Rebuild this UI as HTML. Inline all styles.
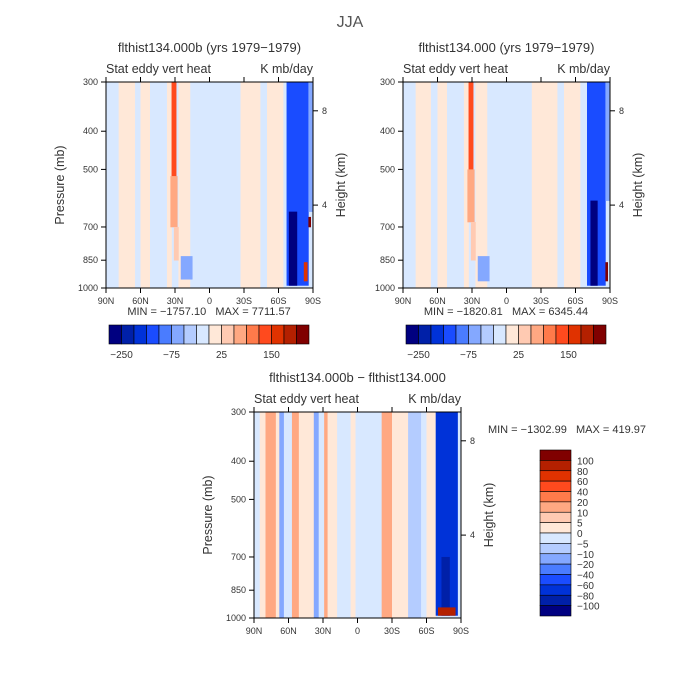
<!DOCTYPE html>
<html><head><meta charset="utf-8">
<style>
html,body{margin:0;padding:0;background:#fff;}
svg{display:block;font-family:"Liberation Sans",sans-serif;}
text{white-space:pre;}
</style></head>
<body>
<svg id="chart" width="700" height="700" viewBox="0 0 700 700">
<rect width="700" height="700" fill="#fff"/>
<text x="350" y="27" text-anchor="middle" font-size="16" fill="#555">JJA</text>
</svg>
<script>
// ---- data ----
var topLevels = [-300,-250,-200,-150,-100,-75,-50,-25,0,25,50,75,100,150,200];
var topTickLabels = ['-250','-75','25','150'];
var topTickIdx = [1,5,9,13];
var diffLevels = [-100,-80,-60,-40,-20,-10,-5,0,5,10,20,40,60,80,100];
var diffTickLabels = ['100','80','60','40','20','10','5','0','\u22125','\u221210','\u221220','\u221240','\u221260','\u221280','\u2212100'];
var palette = ['#000080','#0020a8','#0032d8','#1a4cff','#4a7cff','#84a8ff','#b4ccff','#d8e8ff','#ffe8d8','#ffcab2','#ffa882','#ff7a4a','#ff4a1e','#e03200','#b42000','#800000'];
var pressureTicks = [300,400,500,700,850,1000];
var heightTicks = [8,4];
var heightTickP = [355,616];
var latTicks = [90,60,30,0,-30,-60,-90];
var latLabels = ['90N','60N','30N','0','30S','60S','90S'];
// cells: [latNorth, latSouth, pTop, pBottom, value]
var cellsA = [
 [90,-90,300,1000,-30],[79,65,300,1000,-10],[60,52,300,1000,-10],[37,33,300,1000,-10],
 [27,17,300,1000,-10],[-27,-44,300,1000,-10],[-50,-64,300,1000,-10],
 [33,29,300,520,80],[34,28,520,700,30],[31,27,700,850,10],[25,15,830,950,-80],
 [-67,-86,300,985,-180],[-69,-76,640,985,-400],[-86,-90,300,640,-80],
 [-86,-88,660,700,300],[-82,-85,860,960,120]
];
var cellsB = [
 [90,-90,300,1000,-30],[79,66,300,1000,-10],[60,52,300,1000,-10],[37,33,300,1000,-10],
 [27,17,300,1000,-10],[-22,-44,300,1000,-10],[-50,-64,300,1000,-10],
 [33,29,300,500,80],[34,28,500,680,30],[31,27,680,850,10],[25,15,830,960,-80],
 [-70,-86,300,985,-170],[-73,-79,600,985,-400],[-86,-90,300,600,-80],
 [-86,-88,860,960,250]
];
var cellsC = [
 [90,-90,300,1000,-3],[85,80,300,1000,3],[80,71,300,1000,15],[71,68,300,1000,3],
 [68,64,300,1000,-15],[64,57,300,1000,-3],[57,51,300,1000,15],[51,38,300,1000,3],
 [38,34,300,1000,-15],[29,26,300,1000,15],[26,18,300,1000,3],[6,2,300,1000,3],
 [-21,-30,300,1000,15],[-30,-44,300,1000,3],[-44,-55,300,1000,-8],[-60,-68,300,1000,3],
 [-68,-87,300,985,-70],[-73,-80,700,985,-90],[-70,-85,940,985,80]
];
// ---- drawing ----
var svg = document.getElementById('chart');
var NS = 'http://www.w3.org/2000/svg';
function mk(tag, attrs, parent){var e=document.createElementNS(NS,tag);for(var k in attrs)e.setAttribute(k,attrs[k]);(parent||svg).appendChild(e);return e;}
function colorFor(v, levels){var i=0;while(i<levels.length && v>=levels[i])i++;return palette[i];}
function txt(x,y,s,size,anchor,parent,name){var t=mk('text',{x:x,y:y,'font-size':size,'text-anchor':anchor||'middle',fill:'#333'},parent);t.textContent=s;
 
 
 return t;}

function panel(name,x0,y0,w,h,cells,levels,title,sub,showPressTitle){
 var g=mk('g',{});
 
 
 var xs=function(lat){return x0+(90-lat)/180*w;};
 var ys=function(p){return y0+Math.log(p/300)/Math.log(1000/300)*h;};
 cells.forEach(function(c){
  var r=mk('rect',{x:xs(c[0]),y:ys(c[2]),width:xs(c[1])-xs(c[0])+0.3,height:ys(c[3])-ys(c[2])+0.3,fill:colorFor(c[4],levels)},g);
  
  
 });
 var f=mk('rect',{x:x0,y:y0,width:w,height:h,fill:'none',stroke:'#000','stroke-width':1},g);
 
 
 latTicks.forEach(function(l,i){
  var x=xs(l);
  mk('line',{x1:x,y1:y0+h,x2:x,y2:y0+h+5,stroke:'#000'},g);
  mk('line',{x1:x,y1:y0,x2:x,y2:y0-5,stroke:'#000'},g);
  txt(x,y0+h+16,latLabels[i],9,'middle',g,'lat-tick-label');
 });
 pressureTicks.forEach(function(p){
  var y=ys(p);
  mk('line',{x1:x0,y1:y,x2:x0-5,y2:y,stroke:'#000'},g);
  txt(x0-8,y+3,String(p),9,'end',g,'pressure-tick-label');
 });
 heightTicks.forEach(function(z,i){
  var y=ys(heightTickP[i]);
  mk('line',{x1:x0+w,y1:y,x2:x0+w+5,y2:y,stroke:'#000'},g);
  txt(x0+w+9,y+3,String(z),9,'start',g,'height-tick-label');
 });
 txt(x0+w/2,y0-30,title,13,'middle',g,'panel-title');
 txt(x0,y0-9,sub[0],12.5,'start',g,'variable-label');
 txt(x0+w,y0-9,sub[1],12.5,'end',g,'units-label');
 if(showPressTitle){
  var yl=txt(0,0,'Pressure (mb)',12.5,'middle',g,'y-axis-title');
  yl.setAttribute('transform','translate('+(x0-42)+','+(y0+h/2)+') rotate(-90)');
 }
 var yr=txt(0,0,'Height (km)',12.5,'middle',g,'y2-axis-title');
 yr.setAttribute('transform','translate('+(x0+w+32)+','+(y0+h/2)+') rotate(-90)');
}

function hbar(name,x0,y0,w,h,labelTxt,idx){
 var g=mk('g',{});
 
 
 var bw=w/palette.length;
 palette.forEach(function(c,i){
  var r=mk('rect',{x:x0+i*bw,y:y0,width:bw,height:h,fill:c,stroke:'#000','stroke-width':0.6},g);
  
  
 });
 labelTxt.forEach(function(s,i){txt(x0+idx[i]*bw,y0+h+14,s.replace('-','\u2212'),10,'middle',g,'colorbar-label');});
}
function vbar(name,x0,y0,w,h){
 var g=mk('g',{});
 
 
 var bh=h/palette.length;
 for(var i=0;i<palette.length;i++){
  var r=mk('rect',{x:x0,y:y0+i*bh,width:w,height:bh,fill:palette[palette.length-1-i],stroke:'#000','stroke-width':0.6},g);
  
  
 }
 diffTickLabels.forEach(function(s,i){txt(x0+w+6,y0+(i+1)*bh+4,s,10,'start',g,'colorbar-label');});
}

panel('panel-run-b',106,82,207,206,cellsA,topLevels,'flthist134.000b (yrs 1979\u22121979)',['Stat eddy vert heat','K mb/day'],true);
panel('panel-run-a',403,82,207,206,cellsB,topLevels,'flthist134.000 (yrs 1979\u22121979)',['Stat eddy vert heat','K mb/day'],false);
panel('panel-diff',254,412,207,206,cellsC,diffLevels,'flthist134.000b \u2212 flthist134.000',['Stat eddy vert heat','K mb/day'],true);
txt(209,315,'MIN = \u22121757.10   MAX = 7711.57',11,'middle',null,'minmax-left');
txt(506,315,'MIN = \u22121820.81   MAX = 6345.44',11,'middle',null,'minmax-right');
txt(567,433,'MIN = \u22121302.99   MAX = 419.97',11,'middle',null,'minmax-diff');
hbar('colorbar-left',109,325,200,19,topTickLabels,topTickIdx);
hbar('colorbar-right',406,325,200,19,topTickLabels,topTickIdx);
vbar('colorbar-diff',540,450,31,166);
</script>
</body></html>
